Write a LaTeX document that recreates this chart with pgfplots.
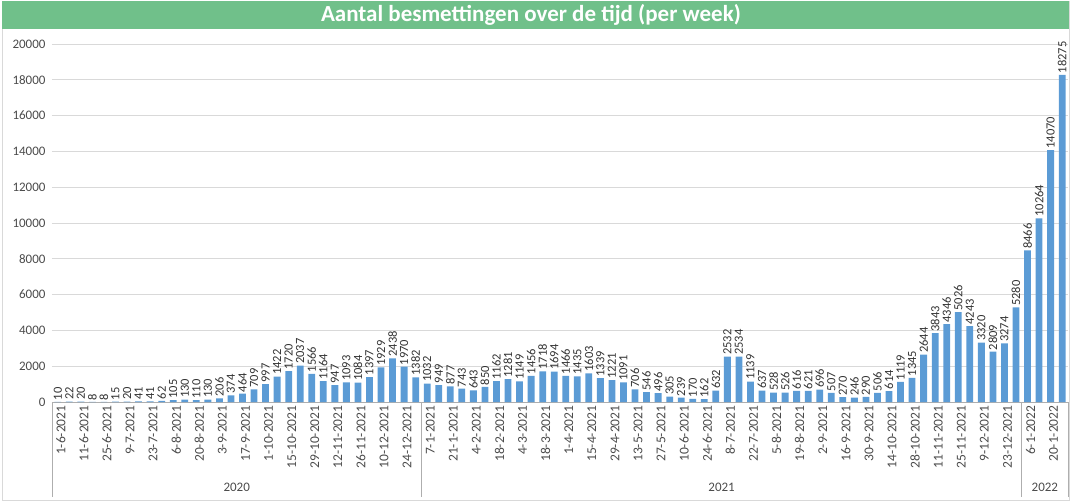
\documentclass[border=0pt]{standalone}
\usepackage{fontspec}
\setmainfont{Carlito}
\usepackage{pgfplots}
\usepackage{pgfplotstable}
\pgfplotsset{compat=1.18}
\definecolor{barblue}{RGB}{91,155,213}
\definecolor{titlegreen}{RGB}{112,192,138}
\definecolor{txtgray}{RGB}{75,75,75}
\definecolor{gridgray}{RGB}{217,217,217}

% weekly cases: 32 weeks 2020, 52 weeks 2021, 4 weeks 2022
\pgfplotstableread{
n
10
22
20
8
8
15
20
41
41
62
105
130
110
130
206
374
464
709
997
1422
1720
2037
1566
1164
947
1093
1084
1397
1929
2438
1970
1382
1032
949
877
743
643
850
1162
1281
1149
1456
1718
1694
1466
1435
1603
1339
1221
1091
706
546
496
305
239
170
162
632
2532
2534
1139
637
528
526
616
621
696
507
270
246
290
506
614
1119
1345
2644
3843
4346
5026
4243
3320
2809
3274
5280
8466
10264
14070
18275
}\weeks

\begin{document}
\begin{tikzpicture}
\path[use as bounding box] (0,0) rectangle (1071pt,-501pt);
\draw[gridgray,line width=0.8pt] (2pt,-1pt) rectangle (1069pt,-500pt);
\fill[titlegreen] (2pt,-1pt) rectangle (1069pt,-29pt);
\node[text=white,font=\fontsize{23}{26}\selectfont\bfseries] at (531pt,-15pt)
  {Aantal besmettingen over de tijd (per week)};

\begin{axis}[at={(52pt,-402pt)},anchor=south west,scale only axis,
  width=1016pt,height=358pt,
  ybar,bar width=6.8pt,bar shift=0pt,
  xmin=-0.5,xmax=87.5,ymin=0,ymax=20000,
  ytick={0,2000,...,20000},scaled y ticks=false,
  /pgf/number format/.cd,1000 sep={},assume math mode=true,/pgfplots/.cd,
  xtick={0,2,...,86},
  xticklabels={1-6-2021,11-6-2021,25-6-2021,9-7-2021,23-7-2021,6-8-2021,20-8-2021,3-9-2021,17-9-2021,1-10-2021,15-10-2021,29-10-2021,12-11-2021,26-11-2021,10-12-2021,24-12-2021,7-1-2021,21-1-2021,4-2-2021,18-2-2021,4-3-2021,18-3-2021,1-4-2021,15-4-2021,29-4-2021,13-5-2021,27-5-2021,10-6-2021,24-6-2021,8-7-2021,22-7-2021,5-8-2021,19-8-2021,2-9-2021,16-9-2021,30-9-2021,14-10-2021,28-10-2021,11-11-2021,25-11-2021,9-12-2021,23-12-2021,6-1-2022,20-1-2022},
  xticklabel style={rotate=90,anchor=east,font=\fontsize{13.5}{14}\selectfont,text=txtgray,yshift=-3pt},
  yticklabel style={font=\fontsize{13}{14}\selectfont,text=txtgray,xshift=-3pt},
  axis x line*=bottom,axis y line*=left,
  x axis line style={draw=gridgray!80!black,line width=0.8pt},
  y axis line style={draw=none},
  major tick length=0pt,
  ymajorgrids,grid style={gridgray,line width=0.8pt},
  nodes near coords,
  nodes near coords style={rotate=90,anchor=west,font=\fontsize{12.5}{12.5}\selectfont,text=black!80,inner sep=1.5pt},
  clip=false]
\addplot[fill=barblue,draw=none] table[x expr=\coordindex,y=n] {\weeks};
\draw[gridgray!80!black,line width=0.8pt] (axis cs:-0.5,0) -- ([yshift=-95pt]axis cs:-0.5,0);
\draw[gridgray!80!black,line width=0.8pt] (axis cs:31.5,0) -- ([yshift=-95pt]axis cs:31.5,0);
\draw[gridgray!80!black,line width=0.8pt] (axis cs:83.5,0) -- ([yshift=-95pt]axis cs:83.5,0);
\draw[gridgray!80!black,line width=0.8pt] (axis cs:87.5,0) -- ([yshift=-95pt]axis cs:87.5,0);
\node[text=txtgray,font=\fontsize{13}{14}\selectfont] at ([yshift=-85pt]axis cs:15.5,0) {2020};
\node[text=txtgray,font=\fontsize{13}{14}\selectfont] at ([yshift=-85pt]axis cs:57.5,0) {2021};
\node[text=txtgray,font=\fontsize{13}{14}\selectfont] at ([yshift=-85pt]axis cs:85.5,0) {2022};
\end{axis}
\end{tikzpicture}
\end{document}
